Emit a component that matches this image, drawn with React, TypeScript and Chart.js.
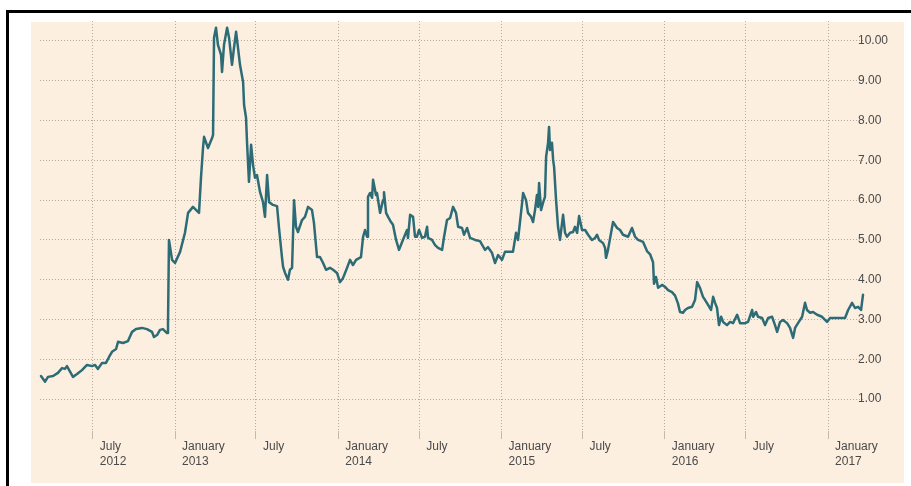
import React, { useEffect, useRef } from "react";
import { Chart, registerables } from "chart.js";

Chart.register(...registerables);

// Time in decimal years (2013.0 = 1 January 2013)
const tradeTimes: number[] = [
  2012.179, 2012.204, 2012.222, 2012.253, 2012.283, 2012.308, 2012.326, 2012.338, 2012.375, 2012.400,
  2012.430, 2012.461, 2012.492, 2012.510, 2012.528, 2012.553, 2012.577, 2012.596, 2012.614, 2012.639,
  2012.651, 2012.681, 2012.712, 2012.737, 2012.761, 2012.798, 2012.828, 2012.859, 2012.871, 2012.890,
  2012.908, 2012.926, 2012.951, 2012.957, 2012.963, 2012.982, 2013.000, 2013.031, 2013.061, 2013.080,
  2013.110, 2013.147, 2013.159, 2013.172, 2013.178, 2013.202, 2013.227, 2013.233, 2013.239, 2013.251,
  2013.263, 2013.282, 2013.288, 2013.300, 2013.319, 2013.331, 2013.349, 2013.361, 2013.374, 2013.386,
  2013.398, 2013.417, 2013.423, 2013.435, 2013.441, 2013.453, 2013.466, 2013.478, 2013.490, 2013.502,
  2013.521, 2013.539, 2013.551, 2013.564, 2013.576, 2013.600, 2013.625, 2013.637, 2013.655, 2013.662,
  2013.674, 2013.692, 2013.704, 2013.717, 2013.729, 2013.741, 2013.753, 2013.778, 2013.796, 2013.815,
  2013.839, 2013.851, 2013.870, 2013.888, 2013.907, 2013.925, 2013.949, 2013.968, 2013.992, 2014.011,
  2014.029, 2014.054, 2014.072, 2014.090, 2014.109, 2014.139, 2014.152, 2014.164, 2014.176, 2014.182,
  2014.195, 2014.207, 2014.213, 2014.231, 2014.237, 2014.256, 2014.274, 2014.280, 2014.293, 2014.305,
  2014.323, 2014.335, 2014.354, 2014.372, 2014.391, 2014.409, 2014.421, 2014.427, 2014.440, 2014.458,
  2014.470, 2014.482, 2014.495, 2014.513, 2014.531, 2014.544, 2014.550, 2014.574, 2014.593, 2014.611,
  2014.636, 2014.648, 2014.666, 2014.685, 2014.703, 2014.721, 2014.734, 2014.758, 2014.770, 2014.789,
  2014.807, 2014.838, 2014.868, 2014.899, 2014.917, 2014.942, 2014.960, 2014.979, 2015.003, 2015.021,
  2015.070, 2015.089, 2015.101, 2015.126, 2015.132, 2015.150, 2015.162, 2015.181, 2015.193, 2015.205,
  2015.217, 2015.224, 2015.230, 2015.242, 2015.254, 2015.266, 2015.273, 2015.285, 2015.291, 2015.297,
  2015.309, 2015.316, 2015.322, 2015.334, 2015.346, 2015.358, 2015.377, 2015.389, 2015.401, 2015.420,
  2015.438, 2015.450, 2015.463, 2015.475, 2015.493, 2015.512, 2015.530, 2015.554, 2015.573, 2015.585,
  2015.597, 2015.622, 2015.634, 2015.640, 2015.652, 2015.671, 2015.683, 2015.708, 2015.726, 2015.744,
  2015.775, 2015.799, 2015.818, 2015.836, 2015.867, 2015.891, 2015.910, 2015.928, 2015.934, 2015.946,
  2015.959, 2015.983, 2016.002, 2016.020, 2016.044, 2016.063, 2016.081, 2016.093, 2016.112, 2016.124,
  2016.142, 2016.167, 2016.185, 2016.198, 2016.216, 2016.234, 2016.247, 2016.265, 2016.283, 2016.296,
  2016.308, 2016.320, 2016.332, 2016.345, 2016.357, 2016.381, 2016.400, 2016.418, 2016.443, 2016.461,
  2016.492, 2016.510, 2016.535, 2016.541, 2016.559, 2016.571, 2016.596, 2016.614, 2016.633, 2016.657,
  2016.675, 2016.688, 2016.706, 2016.724, 2016.749, 2016.767, 2016.786, 2016.798, 2016.816, 2016.841,
  2016.859, 2016.871, 2016.890, 2016.908, 2016.933, 2016.963, 2016.994, 2017.012, 2017.043, 2017.074,
  2017.104, 2017.123, 2017.147, 2017.165, 2017.184, 2017.202, 2017.214,
];

const prices: number[] = [
  1.58, 1.44, 1.56, 1.58, 1.66, 1.78, 1.76, 1.83, 1.56, 1.63,
  1.73, 1.86, 1.83, 1.86, 1.76, 1.91, 1.91, 2.06, 2.19, 2.26,
  2.44, 2.41, 2.46, 2.69, 2.76, 2.79, 2.76, 2.69, 2.56, 2.61,
  2.74, 2.76, 2.66, 2.85, 5.0, 4.5, 4.42, 4.7, 5.18, 5.68,
  5.83, 5.68, 6.56, 7.34, 7.59, 7.31, 7.56, 7.64, 10.08, 10.33,
  9.9, 9.65, 9.22, 9.9, 10.33, 10.08, 9.4, 9.82, 10.23, 9.82,
  9.4, 8.97, 8.39, 8.07, 7.46, 6.46, 7.39, 6.88, 6.56, 6.63,
  6.2, 5.95, 5.58, 6.63, 5.95, 5.88, 5.85, 5.3, 4.57, 4.32,
  4.17, 4.0, 4.25, 4.3, 6.0, 5.33, 5.2, 5.5, 5.58, 5.83,
  5.75, 5.43, 4.57, 4.57, 4.42, 4.25, 4.3, 4.25, 4.17, 3.94,
  4.04, 4.3, 4.5, 4.37, 4.5, 4.57, 5.08, 5.25, 5.08, 6.08,
  6.18, 6.06, 6.51, 6.13, 6.18, 5.68, 6.0, 6.2, 5.68, 5.58,
  5.45, 5.38, 5.0, 4.75, 4.95, 5.13, 5.25, 5.05, 5.63, 5.58,
  5.08, 5.08, 5.25, 5.05, 5.08, 5.33, 5.05, 5.0, 4.87, 4.8,
  4.75, 5.08, 5.5, 5.55, 5.83, 5.68, 5.33, 5.3, 5.13, 5.3,
  5.05, 5.0, 4.97, 4.75, 4.82, 4.67, 4.42, 4.62, 4.5, 4.7,
  4.7, 5.18, 5.0, 5.93, 6.18, 6.0, 5.68, 5.58, 5.45, 5.75,
  6.13, 5.83, 6.43, 5.75, 5.93, 6.08, 7.09, 7.44, 7.84, 7.26,
  7.44, 7.01, 6.83, 6.0, 5.33, 5.0, 5.63, 5.18, 5.08, 5.18,
  5.2, 5.33, 5.18, 5.6, 5.25, 5.25, 5.13, 5.0, 5.05, 5.13,
  5.0, 4.92, 4.8, 4.55, 4.75, 5.18, 5.45, 5.3, 5.25, 5.13,
  5.08, 5.3, 5.08, 5.0, 4.95, 4.72, 4.64, 4.44, 3.9, 4.07,
  3.8, 3.87, 3.82, 3.74, 3.69, 3.6, 3.4, 3.19, 3.17, 3.24,
  3.29, 3.32, 3.49, 3.94, 3.79, 3.57, 3.49, 3.37, 3.24, 3.57,
  3.42, 3.29, 2.86, 3.07, 2.94, 2.86, 2.94, 2.91, 3.12, 2.91,
  2.91, 2.94, 3.24, 3.07, 3.19, 3.07, 3.04, 2.86, 3.04, 3.07,
  2.86, 2.69, 2.94, 2.99, 2.91, 2.79, 2.54, 2.79, 2.91, 3.07,
  3.42, 3.24, 3.17, 3.19, 3.12, 3.07, 2.94, 3.04, 3.04, 3.04,
  3.04, 3.24, 3.42, 3.29, 3.32, 3.24, 3.62,
];

const xTickValues: number[] = [2012.496, 2013, 2013.496, 2014, 2014.496, 2015, 2015.496, 2016, 2016.496, 2017];
const xTickLabels: string[][] = [
  ["July", "2012"],
  ["January", "2013"],
  ["July"],
  ["January", "2014"],
  ["July"],
  ["January", "2015"],
  ["July"],
  ["January", "2016"],
  ["July"],
  ["January", "2017"],
];
const yTickValues: number[] = [1, 2, 3, 4, 5, 6, 7, 8, 9, 10];

const W = 911;
const H = 486;

export default function App() {
  const ref = useRef<HTMLCanvasElement | null>(null);

  useEffect(() => {
    if (!ref.current) return;
    const points = tradeTimes.map((t, i) => ({ x: t, y: prices[i] }));
    const gridColor = "rgba(150,140,128,0.7)";
    const labelFont = { family: "'Liberation Sans', Arial, sans-serif", size: 12, lineHeight: 1.25 };
    const chart = new Chart(ref.current, {
      type: "line",
      data: {
        datasets: [
          {
            data: points,
            borderColor: "#2d6c77",
            borderWidth: 2.5,
            borderJoinStyle: "round",
            borderCapStyle: "round",
            pointRadius: 0,
            tension: 0,
            fill: false,
            clip: false,
          } as any,
        ],
      },
      options: {
        animation: false,
        responsive: false,
        devicePixelRatio: 1,
        layout: { padding: { left: 40, top: 21, right: 0, bottom: 0 } },
        plugins: {
          legend: { display: false },
          tooltip: { enabled: false },
        },
        scales: {
          x: {
            type: "linear",
            min: 2012.173,
            max: 2017.214,
            afterBuildTicks: (scale: any) => {
              scale.ticks = xTickValues.map((value) => ({ value }));
            },
            afterFit: (scale: any) => {
              scale.height = 55;
              scale.paddingLeft = 0;
              scale.paddingRight = 0;
            },
            border: { display: false, dash: [1, 2] },
            grid: {
              color: gridColor,
              lineWidth: 1,
              drawTicks: true,
              tickLength: 8,
              tickColor: "rgba(150,140,128,0.55)",
              tickBorderDash: [],
            },
            ticks: {
              autoSkip: false,
              maxRotation: 0,
              minRotation: 0,
              align: "start",
              labelOffset: 7,
              padding: 0,
              color: "#4a4a4a",
              font: labelFont,
              callback: (_v: any, i: number) => xTickLabels[i],
            },
          },
          y: {
            type: "linear",
            position: "right",
            min: 0.2,
            max: 10.5,
            afterBuildTicks: (scale: any) => {
              scale.ticks = yTickValues.map((value) => ({ value }));
            },
            afterFit: (scale: any) => {
              scale.width = 48;
              scale.paddingTop = 0;
              scale.paddingBottom = 0;
            },
            border: { display: false, dash: [1, 2] },
            grid: {
              color: gridColor,
              lineWidth: 1,
              drawTicks: false,
            },
            ticks: {
              mirror: true,
              crossAlign: "far",
              padding: 25,
              color: "#4a4a4a",
              font: labelFont,
              callback: (v: any) => Number(v).toFixed(2),
            },
          },
        },
      },
    });
    return () => chart.destroy();
  }, []);

  return (
    <div
      style={{
        position: "fixed",
        left: 0,
        top: 0,
        width: W,
        height: H,
        overflow: "hidden",
        background: "#ffffff",
      }}
    >
      <div
        style={{
          position: "absolute",
          left: 6,
          top: 10,
          width: 1000,
          height: 1000,
          border: "3px solid #000",
          boxSizing: "border-box",
        }}
      />
      <div
        style={{
          position: "absolute",
          left: 31,
          top: 22,
          width: 873,
          height: 461,
          background: "#fcefdf",
        }}
      />
      <canvas
        ref={ref}
        width={W}
        height={H}
        style={{ position: "absolute", left: 0, top: 0, width: W, height: H }}
      />
    </div>
  );
}
